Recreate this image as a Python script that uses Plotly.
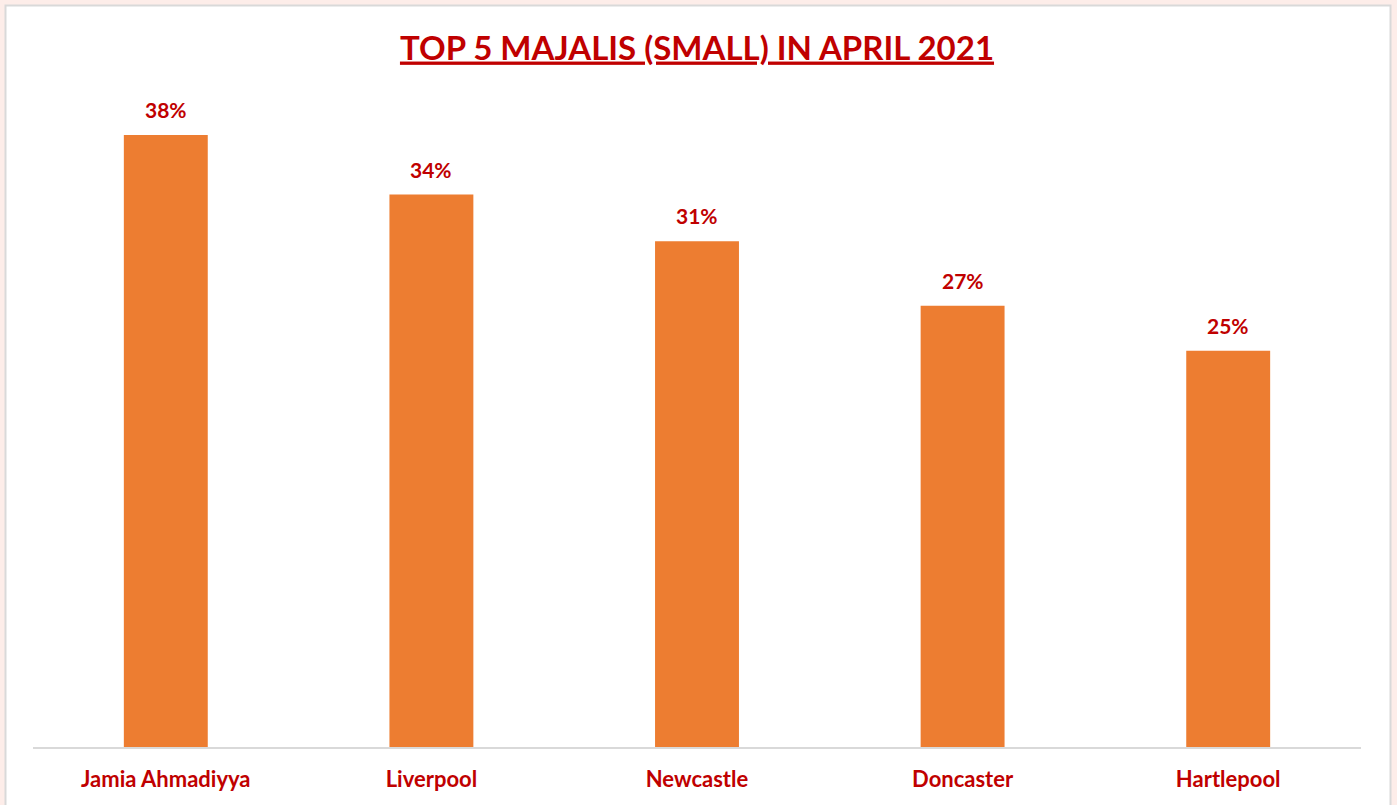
import plotly.graph_objects as go

# ---- data ----
categories = ["Jamia Ahmadiyya", "Liverpool", "Newcastle", "Doncaster", "Hartlepool"]
values = [0.380, 0.343, 0.314, 0.274, 0.246]
title_text = "TOP 5 MAJALIS (SMALL) IN APRIL 2021"

W, H = 1397, 805
ML, MR, MT, MB = 33, 36, 90, 58

RED = "#C00000"
ORANGE = "#ED7D31"
FONT = "Lato, 'Open Sans', sans-serif"

fig = go.Figure()
fig.add_trace(go.Bar(
    x=categories, y=values,
    marker=dict(color=ORANGE, line=dict(width=0)),
    hoverinfo="skip",
))

# data labels above bars
for c, v in zip(categories, values):
    fig.add_annotation(
        x=c, y=v, xref="x", yref="y",
        text="<b>%d%%</b>" % round(v * 100),
        showarrow=False, yanchor="bottom", yshift=11,
        font=dict(family=FONT, size=21, color=RED),
    )

# helper to convert pixel coordinates to paper coordinates
pw = W - ML - MR
ph = H - MT - MB
def px_x(p):
    return (p - ML) / pw
def px_y(p):
    return (H - MB - p) / ph

# white chart frame over pink page
fig.add_shape(
    type="rect", xref="paper", yref="paper",
    x0=px_x(5.5), x1=px_x(1390.5), y0=px_y(830), y1=px_y(5.5),
    fillcolor="white", line=dict(color="#D9D9D9", width=2), layer="below",
)

fig.update_layout(
    width=W, height=H,
    margin=dict(l=ML, r=MR, t=MT, b=MB),
    paper_bgcolor="#FDEDE9",
    plot_bgcolor="rgba(0,0,0,0)",
    bargap=0.684,
    showlegend=False,
    title=dict(
        text="<b><u>" + title_text + "</u></b>",
        x=0.5, xref="paper", xanchor="center",
        y=1 - 48 / H, yref="container", yanchor="middle",
        font=dict(family=FONT, size=33, color=RED),
    ),
    xaxis=dict(
        showline=True, linecolor="#D9D9D9", linewidth=2,
        ticks="", showgrid=False, zeroline=False,
        tickfont=dict(family=FONT, size=22, color=RED),
        ticklabelstandoff=12,
    ),
    yaxis=dict(
        range=[0, (H - MB - MT) / 1610.5],
        visible=False, showgrid=False, zeroline=False,
    ),
    font=dict(family=FONT),
)

# bold tick labels
fig.update_xaxes(tickvals=categories, ticktext=["<b>%s</b>" % c for c in categories])

fig.write_html(
    "out.html",
    config={"displayModeBar": False},
    post_script="document.body.style.margin='0';document.body.style.overflow='hidden';",
)
